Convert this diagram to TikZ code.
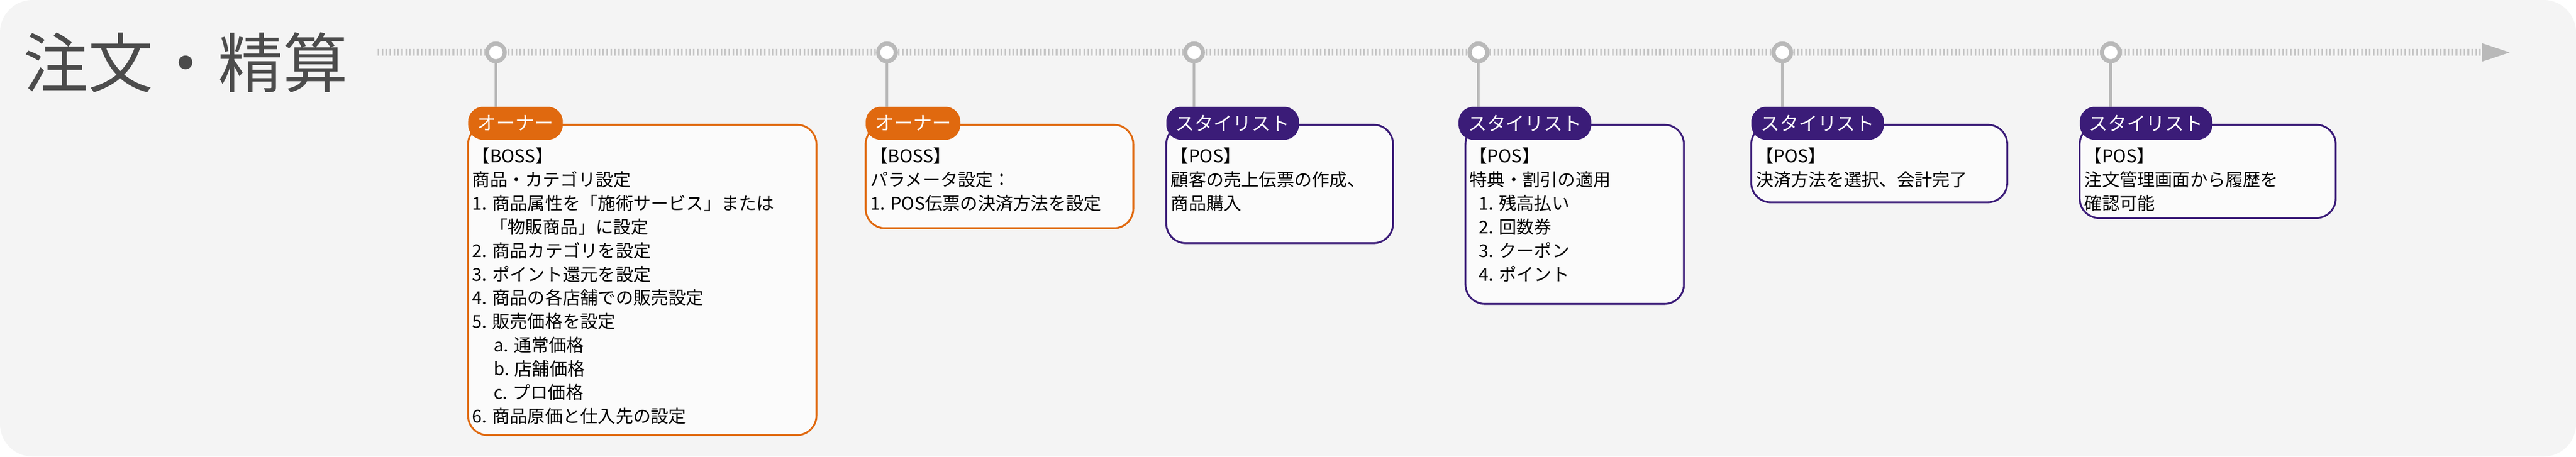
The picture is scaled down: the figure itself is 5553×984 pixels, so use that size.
\documentclass[tikz,border=0pt]{standalone}
\usepackage{fontspec}
\setmainfont{Noto Sans CJK JP}
\usetikzlibrary{arrows.meta}
\definecolor{org}{HTML}{E0690F}
\definecolor{pur}{HTML}{3B1C78}
\definecolor{bg}{HTML}{F4F4F4}
\begin{document}
\begin{tikzpicture}[x=1pt,y=-1pt,
  box/.style={draw=#1,line width=4pt,rounded corners=42pt,fill=white!60!bg},
  tag/.style={fill=#1,rounded corners=32pt,text=white,font=\fontsize{41}{42}\selectfont,inner xsep=20pt,minimum height=71pt,anchor=north west},
  txt/.style={anchor=north west,align=left,inner sep=0pt,font=\fontsize{38}{51}\selectfont},
  dot/.style={circle,draw=gray!55,line width=9pt,fill=white,minimum size=38pt,inner sep=0pt},
  stem/.style={draw=gray!55,line width=6pt}]
\useasboundingbox (0,0) rectangle (5553,984);
\fill[bg,rounded corners=70pt] (0,0) rectangle (5553,984);
\node[anchor=west,inner sep=0pt,text=black!70,font=\fontsize{140}{142}\selectfont] (title) at (50,135) {注文・精算};
\coordinate (ls) at (814,113);
\coordinate (le) at (5410,113);
\draw[gray!45,line width=14pt,dash pattern=on 3.5pt off 5pt] (ls) -- (5350,113);
\fill[gray!55] (5350,93) -- (le) -- (5350,133) -- cycle;
% boxes
\draw[box=org] (1009,269) rectangle (1760,938);
\draw[box=org] (1866,269) rectangle (2443,492);
\draw[box=pur] (2514,269) rectangle (3003,524);
\draw[box=pur] (3159,269) rectangle (3630,655);
\draw[box=pur] (3775,269) rectangle (4327,436);
\draw[box=pur] (4483,269) rectangle (5035,470);
% tags
\node[tag=org] (t1) at (1009,230) {オーナー};
\node[tag=org] (t2) at (1866,230) {オーナー};
\node[tag=pur] (t3) at (2514,230) {スタイリスト};
\node[tag=pur] (t4) at (3144,230) {スタイリスト};
\node[tag=pur] (t5) at (3775,230) {スタイリスト};
\node[tag=pur] (t6) at (4483,230) {スタイリスト};
% timeline dots and stems
\foreach \i/\x in {1/1069,2/1912,3/2574,4/3187,5/3842,6/4550}{
  \node[dot] (d\i) at (\x,113) {};
  \draw[stem] (d\i.south) -- (\x,230);
}
% texts
\node[txt] (x1) at (1018,318) {【BOSS】\\商品・カテゴリ設定\\1. 商品属性を「施術サービス」または\\\hspace{38pt}「物販商品」に設定\\2. 商品カテゴリを設定\\3. ポイント還元を設定\\4. 商品の各店舗での販売設定\\5. 販売価格を設定\\\hspace{46pt}a. 通常価格\\\hspace{46pt}b. 店舗価格\\\hspace{46pt}c. プロ価格\\6. 商品原価と仕入先の設定};
\node[txt] (x2) at (1876,318) {【BOSS】\\パラメータ設定：\\1. POS伝票の決済方法を設定};
\node[txt] (x3) at (2524,318) {【POS】\\顧客の売上伝票の作成、\\商品購入};
\node[txt] (x4) at (3168,318) {【POS】\\特典・割引の適用\\\hspace{20pt}1. 残高払い\\\hspace{20pt}2. 回数券\\\hspace{20pt}3. クーポン\\\hspace{20pt}4. ポイント};
\node[txt] (x5) at (3785,318) {【POS】\\決済方法を選択、会計完了};
\node[txt] (x6) at (4493,318) {【POS】\\注文管理画面から履歴を\\確認可能};
\end{tikzpicture}
\end{document}
